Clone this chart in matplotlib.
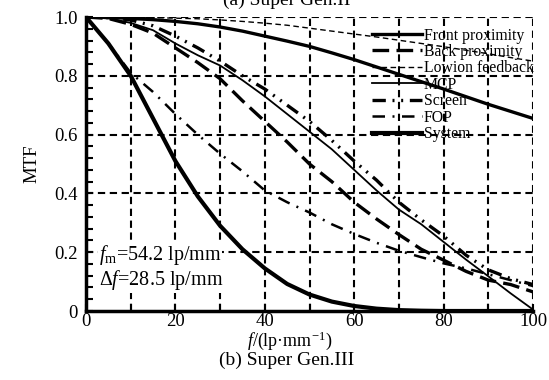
import numpy as np
import matplotlib
matplotlib.use('Agg')
import matplotlib.pyplot as plt
from matplotlib.ticker import MultipleLocator

plt.rcParams['font.family'] = ['Liberation Serif', 'DejaVu Serif']
plt.rcParams['mathtext.fontset'] = 'custom'
plt.rcParams['mathtext.rm'] = 'Liberation Serif'
plt.rcParams['mathtext.it'] = 'Liberation Serif:italic'

# spatial frequency, lp/mm
freq = [0, 5, 10, 15, 20, 25, 30, 35, 40, 45, 50, 55, 60, 65, 70, 75, 80, 85, 90, 95, 100]

front = [1.0, 0.999, 0.995, 0.991, 0.985, 0.977, 0.966, 0.952, 0.935, 0.918, 0.90,
         0.878, 0.855, 0.83, 0.805, 0.78, 0.755, 0.729, 0.703, 0.679, 0.655]
back = [1.0, 0.995, 0.975, 0.945, 0.895, 0.845, 0.79, 0.715, 0.645, 0.575, 0.50,
        0.44, 0.37, 0.313, 0.26, 0.21, 0.173, 0.135, 0.105, 0.09, 0.065]
lowion = [1.0, 1.0, 0.999, 0.998, 0.996, 0.994, 0.99, 0.985, 0.979, 0.972, 0.962,
          0.952, 0.942, 0.932, 0.921, 0.91, 0.899, 0.887, 0.875, 0.862, 0.85]
mcp = [1.0, 0.995, 0.98, 0.955, 0.91, 0.87, 0.835, 0.785, 0.73, 0.67, 0.61,
       0.55, 0.48, 0.41, 0.345, 0.295, 0.235, 0.175, 0.118, 0.06, 0.005]
screen = [1.0, 0.998, 0.99, 0.97, 0.935, 0.895, 0.85, 0.80, 0.755, 0.70, 0.645,
          0.58, 0.51, 0.445, 0.37, 0.31, 0.255, 0.19, 0.14, 0.11, 0.09]
fop = [1.0, 0.91, 0.81, 0.745, 0.67, 0.60, 0.535, 0.475, 0.41, 0.37, 0.335,
       0.295, 0.262, 0.232, 0.205, 0.183, 0.162, 0.145, 0.125, 0.105, 0.085]
system = [1.0, 0.91, 0.80, 0.655, 0.51, 0.39, 0.29, 0.21, 0.145, 0.092, 0.056,
          0.032, 0.017, 0.008, 0.003, 0.001, 0.0, 0.0, 0.0, 0.0, 0.0]

fig = plt.figure(figsize=(5.49, 3.80), dpi=100)
ax = fig.add_axes([86/549, 1-311/380, (533-86)/549, (311-17)/380])

grid_kw = dict(color='black', lw=1.5, dashes=(3.5, 2.2))
for x in range(10, 101, 10):
    ax.axvline(x, **grid_kw, zorder=1)
for y in [0.2, 0.4, 0.6, 0.8, 1.0]:
    ax.axhline(y, **grid_kw, zorder=1)

ax.plot(freq, front, color='black', lw=2.4, label='Front proximity', zorder=3)
ax.plot(freq, back, color='black', lw=2.4, dashes=(5, 2.2), label='Back proximity', zorder=3)
ax.plot(freq, lowion, color='black', lw=1.0, dashes=(4, 2.5), label='Lowion feedback', zorder=3)
ax.plot(freq, mcp, color='black', lw=1.3, label='MCP', zorder=3)
ax.plot(freq, screen, color='black', lw=2.4, dashes=(4, 2, 0.6, 2, 0.6, 2), label='Screen', zorder=3)
ax.plot(freq, fop, color='black', lw=1.8, dashes=(5, 3, 0.8, 3), label='FOP', zorder=3)
ax.plot(freq, system, color='black', lw=3.0, label='System', zorder=3)

ax.set_xlim(0, 100)
ax.set_ylim(0, 1.0)
ax.xaxis.set_major_locator(MultipleLocator(20))
ax.xaxis.set_minor_locator(MultipleLocator(10))
ax.yaxis.set_minor_locator(MultipleLocator(0.04))
ax.set_yticks([0, 0.2, 0.4, 0.6, 0.8, 1.0])
ax.set_yticklabels(['0', '0.2', '0.4', '0.6', '0.8', '1.0'])
ax.tick_params(which='both', direction='in', width=1.5, length=5, labelsize=13.5, pad=1.5)
ax.tick_params(axis='y', pad=6)
ax.tick_params(top=False, right=False, which='both')

for s in ['left', 'bottom']:
    ax.spines[s].set_linewidth(2.5)
for s in ['top', 'right']:
    ax.spines[s].set_visible(False)

ax.set_ylabel('MTF', fontsize=13.5, labelpad=10)

ax.text(2.9, 0.19, '$f_{\\rm m}$=54.2 lp/mm', fontsize=14.5, va='center', ha='left',
        bbox=dict(facecolor='white', edgecolor='none', pad=0.5), zorder=4)
ax.text(2.9, 0.105, 'Δ$f$=28.5 lp/mm', fontsize=14.5, va='center', ha='left',
        bbox=dict(facecolor='white', edgecolor='none', pad=0.5), zorder=4)

leg = ax.legend(loc='upper left', bbox_to_anchor=(372/549, 1-27.5/380),
                bbox_transform=fig.transFigure, frameon=False, fontsize=11.3,
                handlelength=3.2, handletextpad=0.1, labelspacing=0.03,
                borderpad=0, borderaxespad=0)
leg.set_zorder(5)

fig.text(290/549, 1-345.5/380, '$f$/(lp·mm$^{-1}$)', fontsize=13, ha='center', va='baseline')
fig.text(287/549, 1-5/380, '(a) Super Gen.II', fontsize=14, ha='center', va='baseline')
fig.text(287/549, 1-365/380, '(b) Super Gen.III', fontsize=14, ha='center', va='baseline')

fig.savefig('out.png', dpi=100)
